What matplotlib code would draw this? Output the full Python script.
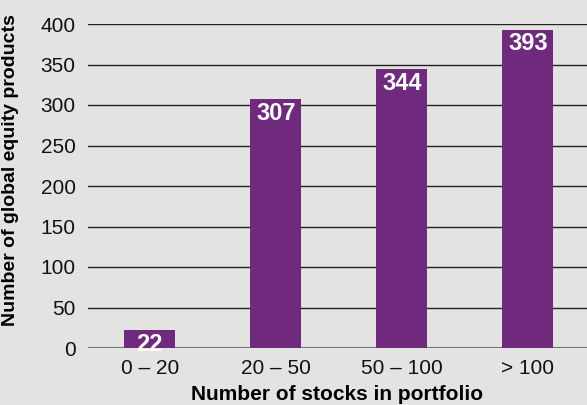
import matplotlib.pyplot as plt

categories = ['0 – 20', '20 – 50', '50 – 100', '> 100']
counts = [22, 307, 344, 393]
yticks = [0, 50, 100, 150, 200, 250, 300, 350, 400]

bg = '#e3e3e2'
purple = '#6f2a7e'

plt.rcParams['font.family'] = ['Liberation Sans', 'DejaVu Sans']

fig = plt.figure(figsize=(5.87, 4.05), dpi=100, facecolor=bg)
ax = fig.add_axes([88/587, 1 - 348/405, 499/587, 324/405], facecolor=bg)

x = range(len(categories))
bars = ax.bar(x, counts, width=0.405, color=purple, zorder=3)

for b, v in zip(bars, counts):
    ax.text(b.get_x() + b.get_width()/2, v - 3, str(v), ha='center', va='top',
            color='white', fontsize=17, fontweight='bold', zorder=4)

ax.set_ylim(0, 400)
ax.set_xlim(-0.49, 3.47)
ax.set_yticks(yticks)
ax.set_xticks(list(x))
ax.set_xticklabels(categories)
ax.tick_params(axis='both', length=0, labelsize=15, colors='#111111')
ax.tick_params(axis='y', pad=9)
ax.tick_params(axis='x', pad=8)

for t in yticks[1:]:
    ax.axhline(t, color='#222222', linewidth=1.0, zorder=1)
ax.axhline(0, color='#777777', linewidth=1.5, zorder=2)

for s in ax.spines.values():
    s.set_visible(False)

ax.set_ylabel('Number of global equity products', fontsize=14, fontweight='bold')
ax.yaxis.set_label_coords(-0.138, 0.55)
ax.set_xlabel('Number of stocks in portfolio', fontsize=15, fontweight='bold', labelpad=5)

fig.savefig('out.png', dpi=100, facecolor=bg)
